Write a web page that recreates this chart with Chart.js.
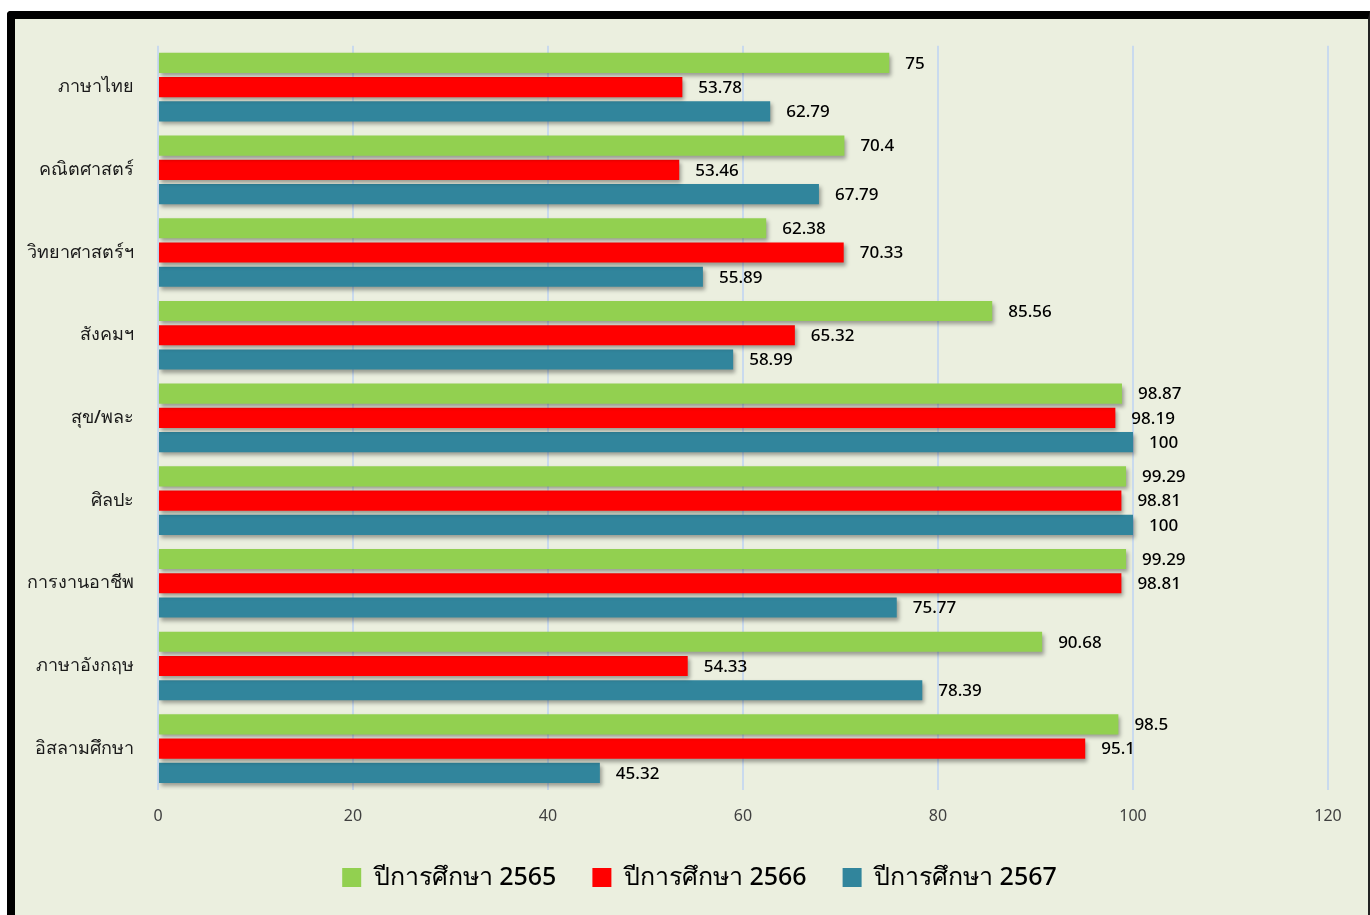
<!DOCTYPE html>
<html lang="th">
<head>
    <meta charset="UTF-8">
    <title>ผลสัมฤทธิ์รายวิชา</title>
    <script src="https://cdn.jsdelivr.net/npm/chart.js"></script>
    <style>
        html, body { margin: 0; padding: 0; background: #ffffff; overflow: hidden; }
        #marco {
            position: absolute; left: 7px; top: 11px;
            width: 1353px; height: 920px;
            background: #ebefdf;
            border-left: 8px solid #000; border-top: 8px solid #000; border-right: 2px solid #222;
            border-top-left-radius: 4px;
        }
        #lienzo { position: absolute; left: 0; top: 0; }
    </style>
</head>
<body>
    <div id="marco"><canvas id="lienzo" width="1353" height="896"></canvas></div>

    <script>
        const materias = ['ภาษาไทย', 'คณิตศาสตร์', 'วิทยาศาสตร์ฯ', 'สังคมฯ', 'สุข/พละ', 'ศิลปะ', 'การงานอาชีพ', 'ภาษาอังกฤษ', 'อิสลามศึกษา'];
        const anios = ['ปีการศึกษา 2565', 'ปีการศึกษา 2566', 'ปีการศึกษา 2567'];
        const valores2565 = [75, 70.4, 62.38, 85.56, 98.87, 99.29, 99.29, 90.68, 98.5];
        const valores2566 = [53.78, 53.46, 70.33, 65.32, 98.19, 98.81, 98.81, 54.33, 95.1];
        const valores2567 = [62.79, 67.79, 55.89, 58.99, 100, 100, 75.77, 78.39, 45.32];
        const colores = ['#92d050', '#ff0000', '#31859c'];

        const fuente = "Tahoma, 'Noto Sans', 'DejaVu Sans', sans-serif";

        // sombra de las barras
        const sombra = {
            id: 'sombra',
            beforeDatasetDraw(chart) {
                const ctx = chart.ctx;
                ctx.save();
                ctx.shadowColor = 'rgba(0,0,0,0.35)';
                ctx.shadowBlur = 4;
                ctx.shadowOffsetX = 2;
                ctx.shadowOffsetY = 3;
            },
            afterDatasetDraw(chart) {
                chart.ctx.restore();
            }
        };

        // etiquetas con el valor al final de cada barra
        const etiquetas = {
            id: 'etiquetas',
            afterDatasetsDraw(chart) {
                const ctx = chart.ctx;
                ctx.save();
                ctx.font = '500 17px ' + fuente;
                ctx.fillStyle = '#000';
                ctx.textAlign = 'left';
                ctx.textBaseline = 'middle';
                chart.data.datasets.forEach((ds, i) => {
                    chart.getDatasetMeta(i).data.forEach((barra, j) => {
                        ctx.fillText(String(ds.data[j]), barra.x + 16, barra.y + 1);
                    });
                });
                ctx.restore();
            }
        };

        // leyenda un poco a la derecha, como en el original
        const moverLeyenda = {
            id: 'moverLeyenda',
            afterLayout(chart) {
                chart.legend.left += 28;
                chart.legend.right += 28;
            }
        };

        const ctx = document.getElementById('lienzo').getContext('2d');
        new Chart(ctx, {
            type: 'bar',
            data: {
                labels: materias,
                datasets: [
                    { label: anios[0], data: valores2565, backgroundColor: colores[0] },
                    { label: anios[1], data: valores2566, backgroundColor: colores[1] },
                    { label: anios[2], data: valores2567, backgroundColor: colores[2] }
                ]
            },
            options: {
                indexAxis: 'y',
                responsive: false,
                animation: false,
                categoryPercentage: 0.88,
                barPercentage: 0.83,
                layout: { padding: { top: 15, right: 40, bottom: 15, left: 0 } },
                plugins: {
                    legend: {
                        position: 'bottom',
                        labels: {
                            boxWidth: 19, boxHeight: 19,
                            padding: 36,
                            color: '#000',
                            font: { family: fuente, size: 25, weight: '500' }
                        }
                    },
                    tooltip: { enabled: false }
                },
                scales: {
                    x: {
                        min: 0, max: 120,
                        ticks: { stepSize: 20, color: '#404040', padding: 17, font: { family: fuente, size: 16 } },
                        grid: { color: '#c9daee', lineWidth: 2, drawTicks: false },
                        border: { display: false },
                        afterFit(scale) { scale.height = 39; }
                    },
                    y: {
                        ticks: { color: '#1a1a1a', padding: 16, font: { family: fuente, size: 18, weight: '500' } },
                        grid: { display: false },
                        border: { display: false },
                        afterFit(scale) { scale.width = 143; }
                    }
                }
            },
            plugins: [sombra, etiquetas, moverLeyenda]
        });
    </script>
</body>
</html>
